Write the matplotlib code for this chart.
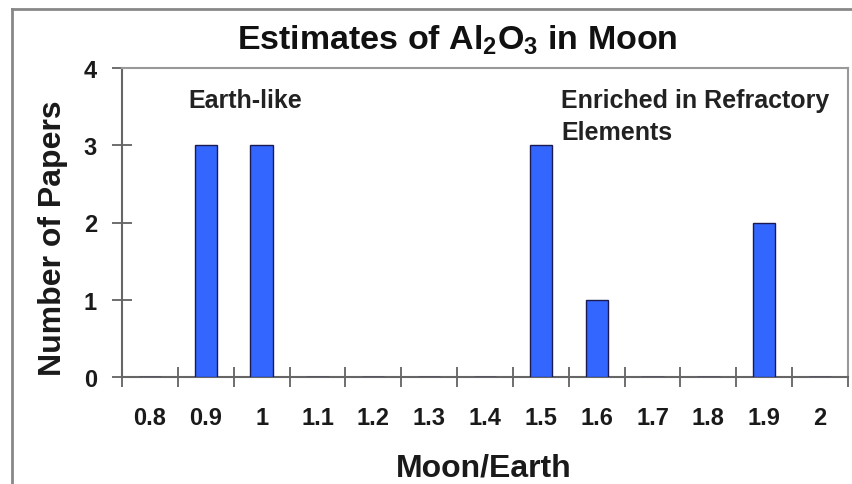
import matplotlib
matplotlib.use("Agg")
import matplotlib.pyplot as plt
from matplotlib.lines import Line2D
import numpy as np

categories = ["0.8", "0.9", "1", "1.1", "1.2", "1.3", "1.4", "1.5", "1.6", "1.7", "1.8", "1.9", "2"]
papers = [0, 3, 3, 0, 0, 0, 0, 3, 1, 0, 0, 2, 0]
y_ticks = [0, 1, 2, 3, 4]

plt.rcParams['font.family'] = ['Liberation Sans', 'DejaVu Sans']
plt.rcParams['font.weight'] = 'bold'
plt.rcParams['mathtext.fontset'] = 'custom'
plt.rcParams['mathtext.rm'] = 'Liberation Sans:bold'
plt.rcParams['mathtext.default'] = 'rm'

W, H = 852, 485
fig = plt.figure(figsize=(W/100, H/100), dpi=100)
ax = fig.add_axes([122/W, 1-378/H, (848-122)/W, (378-69)/H])

x = np.arange(len(categories))
ax.bar(x, papers, width=0.4, color="#3366FF", edgecolor="#1a1a50", linewidth=1.0, zorder=3)

ax.set_xlim(-0.5, len(categories)-0.5)
ax.set_ylim(0, 4)
ax.set_xticks(x)
ax.set_xticklabels(categories, fontsize=17, fontweight='bold', color='#1a1a1a')
ax.set_xticks(np.arange(len(categories)+1)-0.5, minor=True)
ax.tick_params(axis='x', which='major', length=0, pad=21)
ax.tick_params(axis='x', which='minor', length=14, direction='inout', color='#555555', width=1.2)
ax.set_yticks(y_ticks)
ax.set_yticklabels([str(v) for v in y_ticks], fontsize=17, fontweight='bold', color='#1a1a1a')
ax.tick_params(axis='y', length=14, direction='inout', color='#555555', width=1.2, pad=11)

for s in ['left', 'bottom']:
    ax.spines[s].set_color('#666666')
    ax.spines[s].set_linewidth(1.5)
for s in ['top', 'right']:
    ax.spines[s].set_color('#999999')
    ax.spines[s].set_linewidth(1.5)

fig.text(484/W, 1-477/H, "Moon/Earth", fontsize=23, fontweight='bold', color='#1a1a1a',
         ha='center', va='baseline')
fig.text(53/W, 1-238/H, "Number of Papers", fontsize=23, fontweight='bold', color='#1a1a1a',
         ha='center', va='center', rotation=90)

fig.text(457/W, 1-40/H, r"Estimates of Al$_2$O$_3$ in Moon", fontsize=24.5, fontweight='bold',
         ha='center', va='center', color='#111111')

ax.text(0.68, 3.58, "Earth-like", fontsize=18, fontweight='bold', color='#222222', ha='left', va='center')
ax.text(7.36, 3.58, "Enriched in Refractory", fontsize=18, fontweight='bold', color='#222222', ha='left', va='center')
ax.text(7.36, 3.17, "Elements", fontsize=18, fontweight='bold', color='#222222', ha='left', va='center')

# outer frame
fig.add_artist(Line2D([12/W, 12/W], [0, 1-10/H], transform=fig.transFigure, color='#888888', lw=2))
fig.add_artist(Line2D([12/W, 1], [1-10/H, 1-10/H], transform=fig.transFigure, color='#888888', lw=2))

fig.savefig("out.png", dpi=100)
